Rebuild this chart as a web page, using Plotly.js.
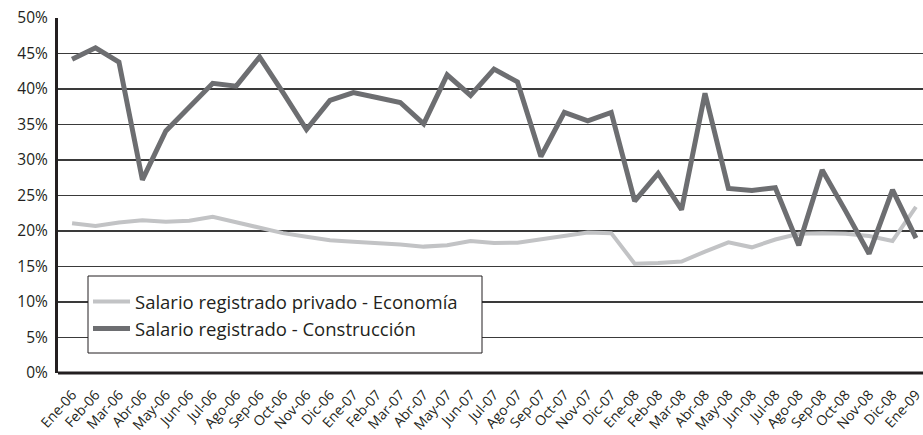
<!DOCTYPE html>
<html>
<head>
<meta charset="utf-8">
<script src="https://cdn.plot.ly/plotly-3.0.1.min.js"></script>
<style>html,body{margin:0;padding:0;background:#fff;}#chart{width:923px;height:435px;}</style>
</head>
<body>
<div id="chart"></div>
<script>
const months = ["Ene-06","Feb-06","Mar-06","Abr-06","May-06","Jun-06","Jul-06","Ago-06","Sep-06","Oct-06","Nov-06","Dic-06",
"Ene-07","Feb-07","Mar-07","Abr-07","May-07","Jun-07","Jul-07","Ago-07","Sep-07","Oct-07","Nov-07","Dic-07",
"Ene-08","Feb-08","Mar-08","Abr-08","May-08","Jun-08","Jul-08","Ago-08","Sep-08","Oct-08","Nov-08","Dic-08","Ene-09"];

const economia = [21.1,20.7,21.2,21.5,21.3,21.45,22.0,21.2,20.5,19.7,19.2,18.7,
18.5,18.35,18.1,17.8,18.0,18.6,18.3,18.35,18.8,19.3,19.8,19.7,
15.4,15.5,15.7,17.1,18.4,17.7,18.8,19.6,19.7,19.6,19.3,18.6,23.4];

const construccion = [44.2,45.8,43.8,27.2,34.1,37.5,40.8,40.4,44.5,39.5,34.3,38.4,
39.5,38.8,38.1,35.1,42.0,39.1,42.8,41.0,30.5,36.7,35.5,36.7,
24.2,28.1,23.0,39.4,26.0,25.7,26.1,18.0,28.6,22.8,16.8,25.8,19.0];

const yTicks = [0,5,10,15,20,25,30,35,40,45,50];
const yTickText = yTicks.map(v => v + "%");

const FONT = "'Open Sans', 'Noto Sans', sans-serif";
const TEXT = "#231f20";

const traces = [
  {x: months, y: economia, type: "scatter", mode: "lines",
   name: "Salario registrado privado - Economía",
   line: {color: "#c2c3c5", width: 4}},
  {x: months, y: construccion, type: "scatter", mode: "lines",
   name: "Salario registrado - Construcción",
   line: {color: "#6d6e71", width: 5}}
];

const layout = {
  width: 923, height: 435,
  margin: {l: 58, r: 0, t: 18, b: 62},
  paper_bgcolor: "#fff", plot_bgcolor: "#fff",
  showlegend: true,
  font: {family: FONT, color: TEXT},
  xaxis: {
    type: "category",
    range: [-0.6, 36.3],
    tickangle: -48,
    tickfont: {size: 14, color: TEXT, family: FONT},
    showgrid: false, zeroline: false,
    showline: false, ticks: "outside", ticklen: 7, tickcolor: "rgba(0,0,0,0)"
  },
  yaxis: {
    range: [0, 50],
    tickvals: yTicks, ticktext: yTickText,
    tickfont: {size: 15.5, color: TEXT, family: FONT},
    showgrid: true, gridcolor: "#3a3a3a", gridwidth: 1.5,
    zeroline: false,
    showline: true, linecolor: "#231f20", linewidth: 3,
    ticks: "", ticklabelstandoff: 4
  },
  shapes: [
    {type: "line", xref: "paper", yref: "paper", x0: 0, x1: 1, y0: 0, y1: 0,
     line: {color: "#231f20", width: 3}, layer: "above"},
    {type: "rect", xref: "paper", yref: "paper",
     x0: (88-58)/865, x1: (482-58)/865, y0: (373-353)/355, y1: (373-276)/355,
     fillcolor: "#ffffff", line: {color: "#231f20", width: 1}, layer: "above"}
  ],
  legend: {
    x: (88-58)/865, y: (373-283)/355, xanchor: "left", yanchor: "top",
    bgcolor: "rgba(0,0,0,0)", borderwidth: 0,
    font: {size: 18.5, color: TEXT, family: FONT},
    itemwidth: 37,
    tracegroupgap: 0
  }
};

Plotly.newPlot("chart", traces, layout, {displayModeBar: false, staticPlot: true});
</script>
</body>
</html>
